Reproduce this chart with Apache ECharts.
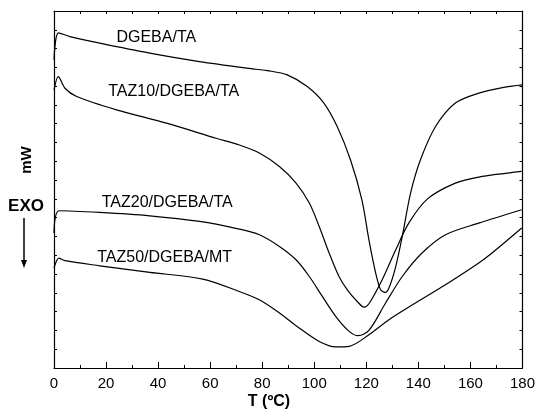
<!DOCTYPE html>
<html>
<head>
<meta charset="utf-8">
<script src="https://cdn.jsdelivr.net/npm/echarts@6/dist/echarts.min.js"></script>
<style>html,body{margin:0;padding:0;background:#fff}#c{width:538px;height:414px}</style>
</head>
<body>
<div id="c"></div>
<script>
// Temperature (ºC) and heat flow (arbitrary mW units, 19 tick divisions)
var dgebaT = [0, 1.7, 6.1, 17.6, 36.8, 55.9, 77.6, 82.0, 89.6, 97.3, 103.7, 108.8, 113.9, 118.3, 121.0, 123.6, 125.5, 127.2, 128.7, 131.3, 133.8, 137.0, 140.8, 146.6, 154.2, 163.2, 173.4, 180];
var dgebaY = [16.40, 17.84, 17.64, 17.29, 16.76, 16.31, 15.90, 15.83, 15.60, 14.98, 14.10, 12.85, 11.08, 8.95, 6.82, 5.05, 4.17, 4.02, 4.26, 5.40, 7.00, 9.31, 11.08, 12.85, 14.10, 14.63, 14.95, 15.07];

var taz10T = [0, 1.65, 4.2, 8.7, 24.0, 43.2, 62.3, 71.2, 78.9, 86.6, 93.0, 98.1, 101.9, 105.7, 109.5, 112.7, 116.5, 119.1, 121.0, 126.1, 131.3, 136.3, 143.4, 154.2, 163.2, 179.7];
var taz10Y = [14.80, 15.51, 14.89, 14.45, 13.74, 13.03, 12.23, 11.87, 11.44, 10.72, 9.84, 8.78, 7.53, 6.12, 4.87, 4.16, 3.54, 3.24, 3.42, 4.70, 6.29, 7.71, 8.99, 9.84, 10.16, 10.46];

var taz20T = [0, 1.9, 17.6, 36.8, 55.9, 71.2, 78.9, 86.6, 93.0, 98.1, 103.1, 108.3, 113.4, 116.9, 121.0, 127.4, 133.8, 141.4, 150.4, 163.2, 179.7];
var taz20Y = [7.18, 8.37, 8.28, 8.10, 7.80, 7.39, 7.09, 6.47, 5.76, 4.87, 3.81, 2.74, 1.95, 1.72, 2.00, 3.46, 4.87, 6.12, 7.09, 7.71, 8.42];

var taz50T = [0, 1.9, 4.2, 17.6, 36.8, 57.2, 71.2, 78.9, 86.6, 94.2, 101.9, 108.3, 113.4, 121.0, 128.7, 138.9, 150.4, 163.2, 168.3, 179.7];
var taz50Y = [5.32, 5.85, 5.71, 5.44, 5.09, 4.73, 4.07, 3.63, 2.93, 2.13, 1.41, 1.12, 1.15, 1.77, 2.57, 3.46, 4.43, 5.59, 6.12, 7.45];

var seriesNames = ['DGEBA/TA', 'TAZ10/DGEBA/TA', 'TAZ20/DGEBA/TA', 'TAZ50/DGEBA/MT'];
var labelT = [39.3, 46.0, 43.5, 42.5];
var labelY = [17.59, 14.71, 8.78, 5.85];
var xTicks = ['0', '20', '40', '60', '80', '100', '120', '140', '160', '180'];

function pairs(t, y) { return t.map(function (v, i) { return [v, y[i]]; }); }

var FONT = 'Liberation Sans, Arial, sans-serif';
var allT = [dgebaT, taz10T, taz20T, taz50T];
var allY = [dgebaY, taz10Y, taz20Y, taz50Y];

var series = seriesNames.map(function (name, i) {
  return {
    name: name,
    type: 'line',
    data: pairs(allT[i], allY[i]),
    smooth: 0.3,
    symbol: 'none',
    lineStyle: { color: '#000', width: 1.2 },
    markPoint: {
      symbol: 'circle', symbolSize: 0,
      data: [{ coord: [labelT[i], labelY[i]] }],
      label: { show: true, position: 'inside', formatter: name, color: '#000', fontSize: 16, fontFamily: FONT }
    }
  };
});

var chart = echarts.init(document.getElementById('c'));
chart.setOption({
  animation: false,
  backgroundColor: '#fff',
  grid: { left: 54, right: 14, top: 11, bottom: 46 },
  xAxis: [
    { type: 'value', position: 'bottom', min: 0, max: 180, interval: 20,
      axisLine: { onZero: false, lineStyle: { color: '#000', width: 1.2 } },
      axisTick: { inside: true, length: 6, lineStyle: { color: '#000' } },
      minorTick: { show: true, splitNumber: 2, length: 3, lineStyle: { color: '#000' } },
      splitLine: { show: false },
      axisLabel: { color: '#000', fontSize: 15, fontFamily: FONT, margin: 8,
        formatter: function (v) { return xTicks[Math.round(v / 20)]; } } },
    { type: 'value', position: 'top', min: 0, max: 180, interval: 10,
      axisLine: { onZero: false, lineStyle: { color: '#000', width: 1.2 } },
      axisTick: { inside: true, length: 3, lineStyle: { color: '#000' } },
      splitLine: { show: false }, axisLabel: { show: false } }
  ],
  yAxis: [
    { type: 'value', position: 'left', min: 0, max: 19, interval: 1,
      axisLine: { show: true, onZero: false, lineStyle: { color: '#000', width: 1.2 } },
      axisTick: { show: true, inside: true, length: 3, lineStyle: { color: '#000' } },
      splitLine: { show: false }, axisLabel: { show: false } },
    { type: 'value', position: 'right', min: 0, max: 19, interval: 1,
      axisLine: { show: true, onZero: false, lineStyle: { color: '#000', width: 1.2 } },
      axisTick: { show: true, inside: true, length: 3, lineStyle: { color: '#000' } },
      splitLine: { show: false }, axisLabel: { show: false } }
  ],
  series: series,
  graphic: [
    { type: 'text', left: 'center', top: 394,
      style: { text: 'T (ºC)', fontSize: 16, fontWeight: 'bold', fontFamily: FONT, fill: '#000' } },
    { type: 'text', x: 27, y: 160, rotation: Math.PI / 2,
      style: { text: 'mW', fontSize: 15, fontWeight: 'bold', fontFamily: FONT, fill: '#000', align: 'center', verticalAlign: 'middle' } },
    { type: 'text', x: 26, y: 206,
      style: { text: 'EXO', fontSize: 17, fontWeight: 'bold', fontFamily: FONT, fill: '#000', align: 'center', verticalAlign: 'middle' } },
    { type: 'line', shape: { x1: 24, y1: 218, x2: 24, y2: 262 }, style: { stroke: '#000', lineWidth: 1.5 } },
    { type: 'polygon', shape: { points: [[21, 260], [27, 260], [24, 268]] }, style: { fill: '#000' } }
  ]
});
</script>
</body>
</html>
